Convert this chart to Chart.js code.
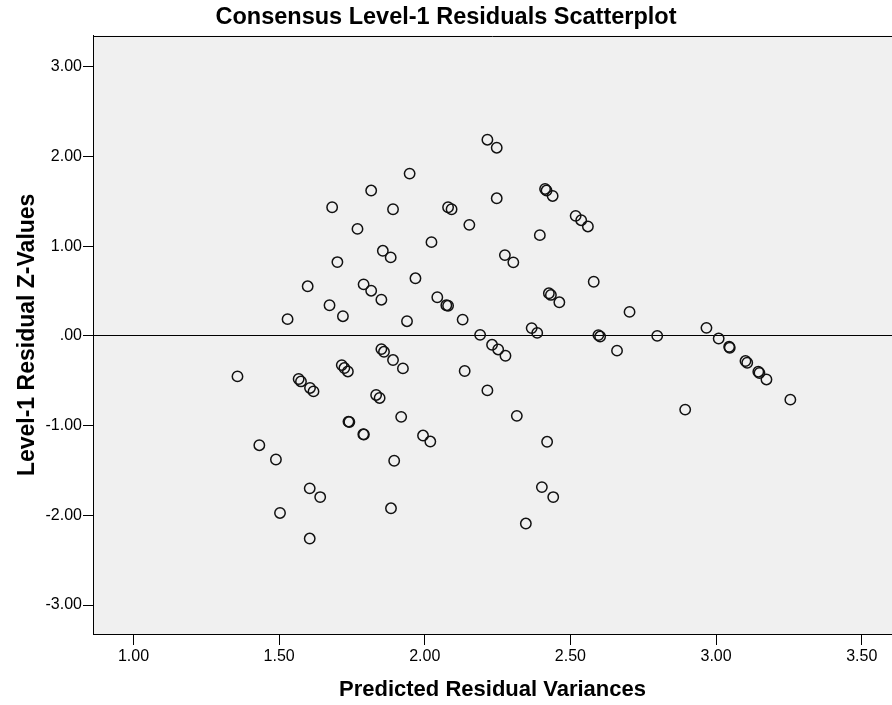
<!DOCTYPE html>
<html>
<head>
<meta charset="utf-8">
<script src="https://cdn.jsdelivr.net/npm/chart.js@4.4.1/dist/chart.umd.min.js"></script>
<style>
  html, body { margin: 0; padding: 0; background: #ffffff; }
  #wrap { width: 892px; height: 705px; }
</style>
</head>
<body>
<div id="wrap"><canvas id="c" width="892" height="705"></canvas></div>
<script>
// Predicted residual variances (x) and level-1 residual z-values (y)
const predictedVariances = [
  1.357, 1.529, 1.598, 1.432, 1.489, 1.503, 1.567, 1.575, 1.606, 1.618,
  1.605, 1.641, 1.605, 1.673, 1.700, 1.719, 1.682, 1.715, 1.724, 1.736,
  1.738, 1.741, 1.769, 1.790, 1.816, 1.851, 1.816, 1.856, 1.883, 1.891,
  1.833, 1.845, 1.851, 1.860, 1.891, 1.925, 1.789, 1.791, 1.919, 1.895,
  1.884, 1.948, 1.968, 2.023, 1.939, 1.994, 2.019, 2.043, 2.074, 2.080,
  2.080, 2.092, 2.130, 2.153, 2.137, 2.190, 2.215, 2.215, 2.247, 2.247,
  2.231, 2.252, 2.277, 2.275, 2.304, 2.316, 2.395, 2.367, 2.386, 2.347,
  2.402, 2.441, 2.420, 2.413, 2.418, 2.439, 2.518, 2.537, 2.560, 2.580,
  2.426, 2.433, 2.462, 2.596, 2.602, 2.660, 2.703, 2.798, 2.894, 2.967,
  3.009, 3.045, 3.047, 3.101, 3.107, 3.145, 3.149, 3.173, 3.255
];
const residualZ = [
  -0.452, 0.186, 0.552, -1.219, -1.378, -1.974, -0.481, -0.508, -0.581, -0.619,
  -1.700, -1.797, -2.259, 0.341, 0.822, 0.219, 1.433, -0.326, -0.359, -0.397,
  -0.956, -0.960, 1.192, 0.574, 0.503, 0.403, 1.619, 0.948, 0.874, 1.411,
  -0.659, -0.692, -0.148, -0.178, -0.270, -0.363, -1.097, -1.100, -0.903, -1.392,
  -1.922, 1.808, 0.641, 1.044, 0.163, -1.111, -1.178, 0.430, 0.341, 0.336,
  1.433, 1.411, 0.181, 1.237, -0.392, 0.011, -0.608, 2.186, 2.097, 1.533,
  -0.100, -0.152, -0.222, 0.900, 0.819, -0.892, 1.122, 0.086, 0.033, -2.092,
  -1.686, -1.797, -1.181, 1.637, 1.619, 1.559, 1.337, 1.289, 1.219, 0.603,
  0.474, 0.456, 0.374, 0.008, -0.008, -0.165, 0.267, 0.000, -0.822, 0.089,
  -0.030, -0.122, -0.133, -0.281, -0.300, -0.400, -0.414, -0.486, -0.711
];
const xTicks = [1.00, 1.50, 2.00, 2.50, 3.00, 3.50];
const yTicks = [-3, -2, -1, 0, 1, 2, 3];
const chartTitle = 'Consensus Level-1 Residuals Scatterplot';
const xTitle = 'Predicted Residual Variances';
const yTitle = 'Level-1 Residual Z-Values';

const points = predictedVariances.map((x, i) => ({ x: x, y: residualZ[i] }));

function fmtY(v) {
  const a = Math.abs(v).toFixed(2);
  const s = Math.abs(v) < 1 ? a.replace(/^0/, '') : a;
  return (v < 0 ? '-' : '') + s;
}

const frame = {
  id: 'frame',
  beforeDraw(chart) {
    const ctx = chart.ctx;
    const a = chart.chartArea;
    ctx.save();
    ctx.fillStyle = '#ffffff';
    ctx.fillRect(0, 0, chart.width, chart.height);
    ctx.fillStyle = '#f0f0f0';
    ctx.fillRect(a.left, a.top, a.right - a.left, a.bottom - a.top);
    ctx.restore();
  },
  afterDraw(chart) {
    const ctx = chart.ctx;
    const a = chart.chartArea;
    ctx.save();
    ctx.strokeStyle = '#000000';
    ctx.lineWidth = 1;
    ctx.beginPath();
    ctx.moveTo(a.left, Math.round(a.top) + 0.5);
    ctx.lineTo(a.right, Math.round(a.top) + 0.5);
    ctx.stroke();
    ctx.restore();
  }
};

const FONT = "'Liberation Sans', Arial, sans-serif";

new Chart(document.getElementById('c'), {
  type: 'scatter',
  data: {
    datasets: [{
      data: points,
      pointStyle: 'circle',
      pointRadius: 5.2,
      pointHoverRadius: 5.2,
      pointBackgroundColor: 'rgba(0,0,0,0)',
      pointBorderColor: '#111111',
      pointBorderWidth: 1.5,
      showLine: false,
      clip: false
    }]
  },
  options: {
    responsive: false,
    animation: false,
    layout: { autoPadding: false, padding: { left: 0, right: 0, top: 0, bottom: 0 } },
    plugins: {
      legend: { display: false },
      tooltip: { enabled: false },
      title: {
        display: true,
        text: chartTitle,
        color: '#000000',
        font: { family: FONT, size: 23.5, weight: 'bold' },
        padding: { top: 3, bottom: 4.5 }
      }
    },
    scales: {
      x: {
        type: 'linear',
        min: 0.861,
        max: 3.604,
        afterFit(scale) { scale.height = 71; scale.paddingLeft = 0; scale.paddingRight = 0; },
        afterBuildTicks(scale) { scale.ticks = xTicks.map(v => ({ value: v })); },
        ticks: {
          color: '#000000',
          font: { family: FONT, size: 16 },
          padding: 2,
          maxRotation: 0,
          autoSkip: false,
          callback: v => Number(v).toFixed(2)
        },
        grid: {
          drawOnChartArea: false,
          drawTicks: true,
          tickLength: 11,
          tickColor: '#000000',
          tickWidth: 1
        },
        border: { display: true, color: '#000000', width: 1 },
        title: {
          display: true,
          text: xTitle,
          color: '#000000',
          font: { family: FONT, size: 22, weight: 'bold' },
          padding: { top: 0, bottom: 2 }
        }
      },
      y: {
        type: 'linear',
        min: -3.323,
        max: 3.345,
        afterFit(scale) { scale.width = 93; scale.paddingTop = 0; scale.paddingBottom = 0; },
        afterBuildTicks(scale) { scale.ticks = yTicks.map(v => ({ value: v })); },
        ticks: {
          color: '#000000',
          font: { family: FONT, size: 16 },
          padding: 1,
          autoSkip: false,
          callback: v => fmtY(Number(v))
        },
        grid: {
          drawOnChartArea: true,
          drawTicks: true,
          tickLength: 10,
          tickColor: '#000000',
          tickWidth: 1,
          lineWidth: 1,
          color: ctx => (ctx.tick && ctx.tick.value === 0) ? '#000000' : 'rgba(0,0,0,0)'
        },
        border: { display: true, color: '#000000', width: 1 },
        title: {
          display: true,
          text: yTitle,
          color: '#000000',
          font: { family: FONT, size: 23, weight: 'bold' },
          padding: { top: 13.5, bottom: 0 }
        }
      }
    }
  },
  plugins: [frame]
});
</script>
</body>
</html>
